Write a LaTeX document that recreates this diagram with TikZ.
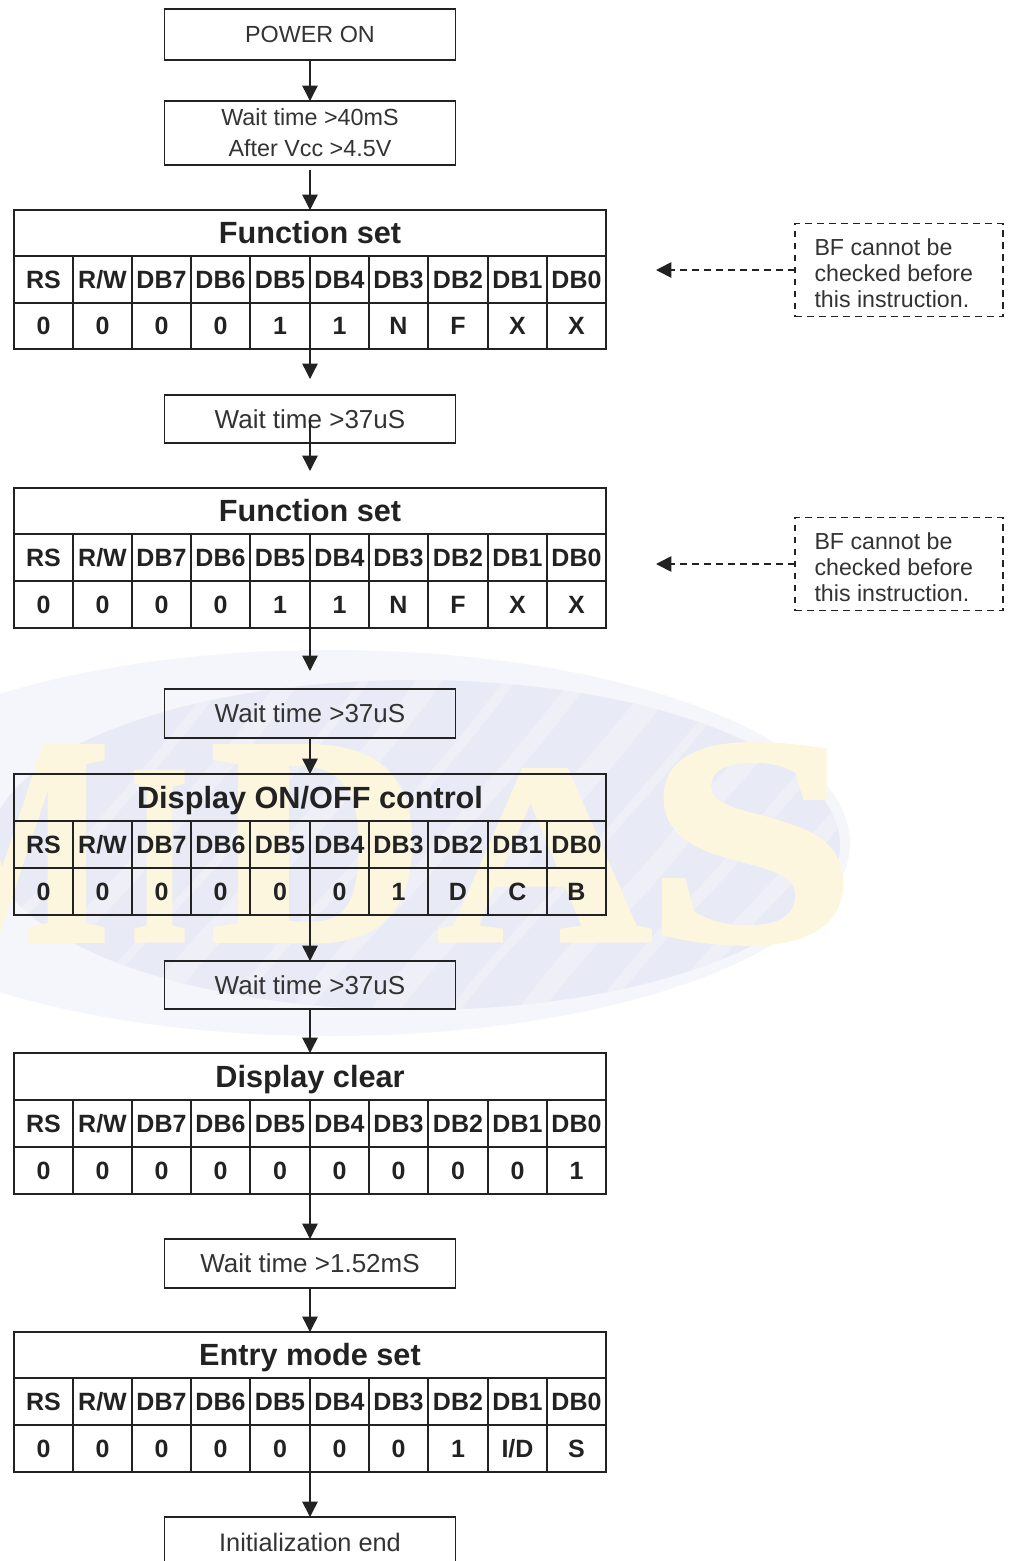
\documentclass[tikz,border=0pt]{standalone}
\usepackage{fontspec}
\usepackage{graphicx}
\setmainfont{Liberation Sans}
\newfontfamily\wmfont[FakeBold=2]{Liberation Serif Bold}
\usetikzlibrary{arrows.meta}
\definecolor{ink}{HTML}{222222}
\definecolor{softink}{HTML}{333333}
\definecolor{wmouter}{HTML}{F5F6FB}
\definecolor{wminner}{HTML}{E8EAF5}
\definecolor{wmgold}{HTML}{FDF6DF}
\newcommand{\fsBody}{\fontsize{19.5}{23.25}\selectfont}
\newcommand{\fsSmall}{\fontsize{17.5}{23.25}\selectfont}
\newcommand{\fsNote}{\fontsize{17.4}{19.5}\selectfont}
\newcommand{\fsTitle}{\fontsize{23}{27}\selectfont\bfseries}
\newcommand{\fsCell}{\fontsize{18.75}{22}\selectfont\bfseries}
\newcommand{\notetext}{\parbox{126.75pt}{\vspace*{4.5pt}BF cannot be\\checked before\\this instruction.}}
\tikzset{
  x=0.75pt,y=-0.75pt,
  ln/.style={draw=ink,line width=0.95pt,text=ink,inner sep=0pt,outer sep=0pt},
  flowbox/.style={ln,text=softink,minimum width=291*0.75pt,font=\fsBody,align=center},
  note/.style={draw=ink,line width=1.25pt,dash pattern=on 5.2pt off 3.8pt,text=softink,inner xsep=14.25pt,inner ysep=0pt,outer sep=0pt,
     minimum width=208*0.75pt,minimum height=93*0.75pt,font=\fsNote},
  arr/.style={draw=ink,line width=1.05pt,-{Triangle[length=11.5pt,width=11.5pt]}},
  noteArr/.style={arr,line width=1.25pt,dash pattern=on 5.2pt off 3.8pt},
  titlecell/.style={ln,font=\fsTitle,text height=16pt,text depth=0pt},
  regcell/.style={ln,font=\fsCell,text height=13.4pt,text depth=0pt},
}
\def\edges{{14,73,132,191,250,310,369,428,488,547,606}}
% name, y0,y1,y2,y3, title, values
\newcommand{\regtable}[7]{%
  \node[titlecell,minimum width=592*0.75pt,minimum height=#3*0.75pt-#2*0.75pt] (#1title) at (310,{(#2+#3)/2}) {#6};
  \foreach \h [count=\c] in {RS,R/W,DB7,DB6,DB5,DB4,DB3,DB2,DB1,DB0}{
    \pgfmathsetmacro\xl{\edges[\c-1]}
    \pgfmathsetmacro\xr{\edges[\c]}
    \node[regcell,minimum width=(\xr-\xl)*0.75pt,minimum height=(#4-#3)*0.75pt] (#1h\c) at ({(\xl+\xr)/2},{(#3+#4)/2}) {\h};
  }
  \foreach \v [count=\c] in {#7}{
    \pgfmathsetmacro\xl{\edges[\c-1]}
    \pgfmathsetmacro\xr{\edges[\c]}
    \node[regcell,minimum width=(\xr-\xl)*0.75pt,minimum height=(#5-#4)*0.75pt] (#1v\c) at ({(\xl+\xr)/2},{(#4+#5)/2}) {\v};
  }
  \coordinate (#1bot) at (310,#5);
}
\begin{document}
\begin{tikzpicture}
\useasboundingbox (0,0) rectangle (1012,1561);
\clip (0,0) rectangle (1012,1561);
\fill[white] (0,0) rectangle (1012,1561);
% watermark
\fill[wmouter] (330,843) ellipse [x radius=520,y radius=193];
\begin{scope}
  \clip (415,845) ellipse [x radius=425,y radius=165];
  \fill[wminner] (-20,660) rectangle (860,1020);
  \foreach \sx/\w in {60/10,130/18,205/8,270/22,350/10,420/16,505/24,575/9,650/20,720/12,790/16,860/10,930/18}{
    \draw[white,opacity=.28,line width=\w*0.75pt,line cap=round]
      (\sx-120,1010) .. controls (\sx-60,930) and (\sx-20,900) .. (\sx+20,850)
      .. controls (\sx+60,800) and (\sx+110,750) .. (\sx+160,680);
  }
\end{scope}
\node[anchor=base west,inner sep=0pt,text=wmgold,font=\wmfont\fontsize{221}{221}\selectfont] (wm) at (-100,940)
  {\scalebox{.75}[1]{M}\kern16.5pt\scalebox{.5}[.87]{I}\kern17pt D\kern11pt\scalebox{1}[.87]{A}\kern-4pt\scalebox{1.28}[1]{S}};
% flow boxes
\node[flowbox,minimum height=51*0.75pt,font=\fsSmall] (power) at (310,34.5) {POWER ON};
\node[flowbox,minimum height=64*0.75pt,font=\fsSmall] (w40) at (310,133) {Wait time >40mS\\After Vcc >4.5V};
\regtable{fa}{210}{256}{303}{349}{Function set}{0,0,0,0,1,1,N,F,X,X}
\node[flowbox,minimum height=48*0.75pt] (wa) at (310,419) {Wait time >37uS};
\regtable{fb}{488}{534}{581}{628}{Function set}{0,0,0,0,1,1,N,F,X,X}
\node[flowbox,minimum height=49*0.75pt] (wb) at (310,713.5) {Wait time >37uS};
\regtable{dc}{774}{821}{868}{915}{Display ON/OFF control}{0,0,0,0,0,0,1,D,C,B}
\node[flowbox,minimum height=48*0.75pt] (wc) at (310,985) {Wait time >37uS};
\regtable{dl}{1053}{1100}{1147}{1194}{Display clear}{0,0,0,0,0,0,0,0,0,1}
\node[flowbox,minimum height=49*0.75pt] (wd) at (310,1263.5) {Wait time >1.52mS};
\regtable{em}{1332}{1378}{1425}{1472}{Entry mode set}{0,0,0,0,0,0,0,1,I/D,S}
\node[flowbox,minimum height=50*0.75pt,font=\fontsize{19}{23}\selectfont] (endn) at (310,1542) {Initialization end};
% notes
\node[note] (na) at (899,270) {\notetext};
\node[note] (nb) at (899,564) {\notetext};
\coordinate (nat) at (656,270);
\coordinate (nbt) at (656,564);
% free arrow ends
\coordinate (s40) at (310,170);
\coordinate (sa) at (310,330);
\coordinate (ta) at (310,379);
\coordinate (swa) at (310,420);
\coordinate (twa) at (310,471);
\coordinate (sb) at (310,608);
\coordinate (tb) at (310,671);
% connectors
\draw[arr] (power.south) -- (w40.north);
\draw[arr] (s40) -- (fatitle.north);
\draw[arr] (sa) -- (ta);
\draw[arr] (swa) -- (twa);
\draw[arr] (sb) -- (tb);
\draw[arr] (wb.south) -- (dctitle.north);
\draw[arr] (dcbot) -- (wc.north);
\draw[arr] (wc.south) -- (dltitle.north);
\draw[arr] (dlbot) -- (wd.north);
\draw[arr] (wd.south) -- (emtitle.north);
\draw[arr] (embot) -- (endn.north);
\draw[noteArr] (na.west) -- (nat);
\draw[noteArr] (nb.west) -- (nbt);
\end{tikzpicture}
\end{document}
